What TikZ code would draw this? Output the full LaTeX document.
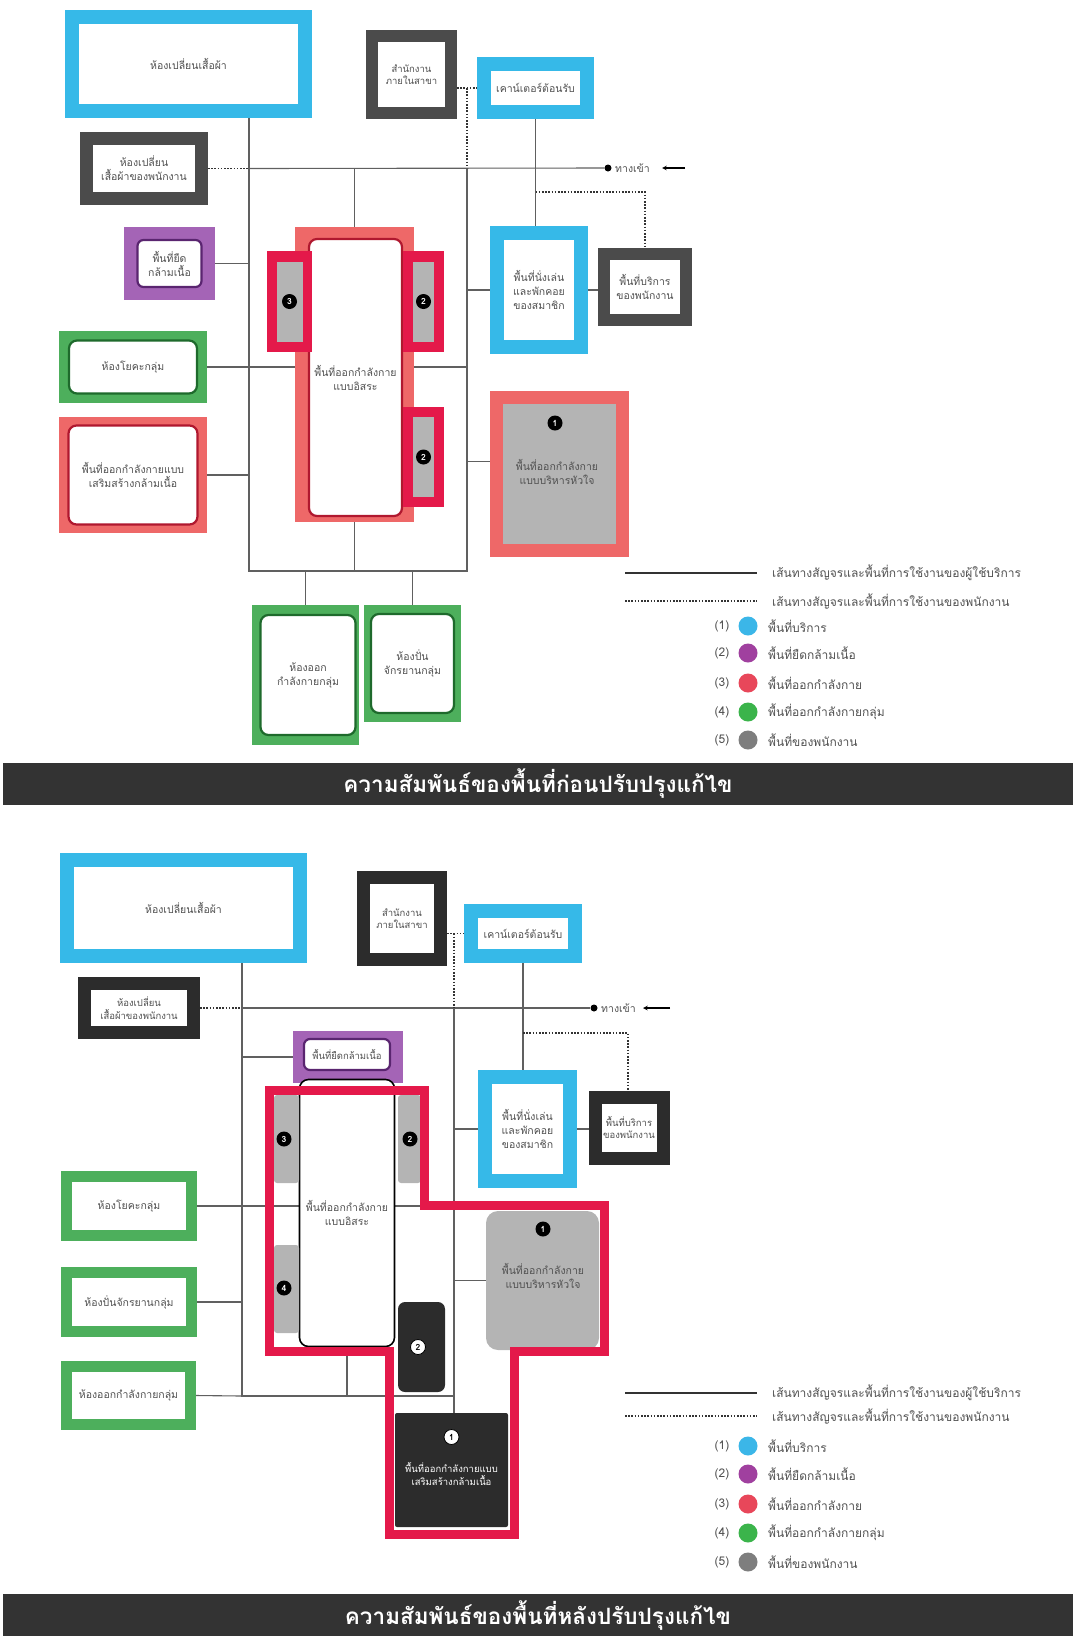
\documentclass[tikz,border=0pt]{standalone}
\usepackage{fontspec}
\setmainfont[Script=Thai]{Loma}
\usetikzlibrary{backgrounds}

\definecolor{svccyan}{HTML}{36B9E8}
\definecolor{stfgrey}{HTML}{4B4B4B}
\definecolor{stfdark}{HTML}{2C2C2C}
\definecolor{strpurple}{HTML}{A464B6}
\definecolor{strdark}{HTML}{5A2570}
\definecolor{exsalmon}{HTML}{EE6868}
\definecolor{exdark}{HTML}{B0182F}
\definecolor{excrimson}{HTML}{E4194A}
\definecolor{grpgreen}{HTML}{4DAF5C}
\definecolor{grpdark}{HTML}{1E6A2C}
\definecolor{areagrey}{HTML}{B4B4B4}
\definecolor{lblgrey}{HTML}{505050}
\definecolor{routegrey}{HTML}{606060}
\definecolor{barblack}{HTML}{333333}
\definecolor{keycyan}{HTML}{3BB6E8}
\definecolor{keypurple}{HTML}{A0409F}
\definecolor{keyred}{HTML}{E8475A}
\definecolor{keygreen}{HTML}{3BB44B}
\definecolor{keygrey}{HTML}{7E7E7E}

\newcommand{\lblfont}{\fontsize{10.5}{14}\selectfont}
\newcommand{\smlfont}{\fontsize{9.5}{12.5}\selectfont}
\newcommand{\keyfont}{\fontsize{12}{14}\selectfont}
\newcommand{\ttlfont}{\fontsize{22.5}{26}\selectfont\bfseries}
\newcommand{\badgefont}{\fontsize{8.5}{8.5}\selectfont\bfseries}

% one row of the colour key
\newcommand{\keyitem}[5]{
  \node (#1n) at (722,#2) [keytxt, anchor=center] {(#3)};
  \node (#1c) at (748,#2) [keydot, fill=#4] {};
  \node (#1t) at (768,#2) [keytxt] {#5};
}

\tikzset{
  lbl/.style={align=center, font=\lblfont, text=lblgrey, inner sep=0pt},
  sml/.style={font=\smlfont},
  svcbox/.style={lbl, draw=svccyan, fill=white, line width=14pt},
  stfbox/.style={lbl, draw=stfgrey, fill=white, line width=12pt},
  stfboxb/.style={lbl, draw=stfdark, fill=white, line width=13pt},
  strout/.style={fill=strpurple, inner sep=0pt},
  strin/.style={lbl, draw=strdark, fill=white, line width=2.2pt, rounded corners=6pt},
  grpout/.style={fill=grpgreen, inner sep=0pt},
  grpin/.style={lbl, draw=grpdark, fill=white, line width=2.2pt, rounded corners=8pt},
  grpbox/.style={lbl, draw=grpgreen, fill=white, line width=11pt},
  exout/.style={fill=exsalmon, inner sep=0pt},
  exin/.style={lbl, draw=exdark, fill=white, line width=2.2pt, rounded corners=8pt},
  sidebox/.style={fill=excrimson, inner sep=0pt},
  sidefill/.style={fill=areagrey, inner sep=0pt},
  greyin/.style={fill=areagrey, inner sep=0pt},
  frbox/.style={lbl, draw=black, fill=white, line width=1.6pt, rounded corners=9pt},
  drkbox/.style={lbl, fill=stfdark, text=white, rounded corners=7pt},
  exframe/.style={draw=excrimson, line width=9pt, line join=miter},
  badge/.style={circle, fill=black, text=white, font=\badgefont, inner sep=0pt, minimum size=15pt},
  badgew/.style={badge, fill=white, text=black, draw=black, line width=0.8pt},
  route/.style={draw=routegrey, line width=1.1pt},
  stfroute/.style={draw=black!80, line width=1.3pt, dash pattern=on 1.6pt off 1.6pt},
  entdot/.style={circle, fill=black, inner sep=0pt, minimum size=7pt},
  entarrow/.style={draw=black, line width=1.1pt, -stealth},
  keytxt/.style={font=\keyfont, text=lblgrey, anchor=west, inner sep=0pt},
  keydot/.style={circle, inner sep=0pt, minimum size=19pt},
  bar/.style={fill=barblack, text=white, font=\ttlfont, inner sep=0pt}
}

\begin{document}
\begin{tikzpicture}[x=1pt,y=-1pt]
  \useasboundingbox (0,0) rectangle (1073,1642);

  % before
  \node (chgA) at (188.5,64) [svcbox, minimum width=233pt, minimum height=94pt] {ห้องเปลี่ยนเสื้อผ้า};
  \node (offA) at (411.5,74.5) [stfbox, sml, minimum width=79pt, minimum height=77pt] {สำนักงาน\\ภายในสาขา};
  \node (recA) at (535.5,88) [svcbox, minimum width=103pt, minimum height=48pt] {เคาน์เตอร์ต้อนรับ};
  \node (schA) at (144,168.5) [stfbox, line width=13pt, minimum width=115pt, minimum height=60pt] {ห้องเปลี่ยน\\เสื้อผ้าของพนักงาน};
  \node (strA) at (169.5,263.5) [strout, minimum width=91pt, minimum height=73pt] {};
  \node (strAin) at (strA) [strin, minimum width=64pt, minimum height=47pt] {พื้นที่ยืด\\กล้ามเนื้อ};
  \node (lngA) at (539,290) [svcbox, minimum width=84pt, minimum height=114pt] {พื้นที่นั่งเล่น\\และพักคอย\\ของสมาชิก};
  \node (ssvA) at (645,287) [stfbox, minimum width=82pt, minimum height=66pt] {พื้นที่บริการ\\ของพนักงาน};
  \node (yogA) at (133,367) [grpout, minimum width=148pt, minimum height=72pt] {};
  \node (yogAin) at (yogA) [grpin, minimum width=128pt, minimum height=53pt] {ห้องโยคะกลุ่ม};
  \node (wgtA) at (133,475) [exout, minimum width=148pt, minimum height=116pt] {};
  \node (wgtAin) at (wgtA) [exin, minimum width=129pt, minimum height=99pt] {พื้นที่ออกกำลังกายแบบ\\เสริมสร้างกล้ามเนื้อ};
  \node (frA) at (354.5,374.5) [exout, minimum width=119pt, minimum height=295pt] {};
  \node (frAin) at (355.5,377.5) [exin, minimum width=93pt, minimum height=277pt] {พื้นที่ออกกำลังกาย\\แบบอิสระ};
  \node (sdAa) at (289.5,301.5) [sidebox, minimum width=45pt, minimum height=101pt] {};
  \node at (sdAa) [sidefill, minimum width=26pt, minimum height=80pt] {};
  \node (bdAa) at (sdAa) [badge] {3};
  \node (sdAb) at (423.5,301.5) [sidebox, minimum width=41pt, minimum height=101pt] {};
  \node at (sdAb) [sidefill, minimum width=21pt, minimum height=80pt] {};
  \node (bdAb) at (sdAb) [badge] {2};
  \node (sdAc) at (423.5,457) [sidebox, minimum width=41pt, minimum height=100pt] {};
  \node at (sdAc) [sidefill, minimum width=21pt, minimum height=80pt] {};
  \node (bdAc) at (sdAc) [badge] {2};
  \node (cdA) at (559.5,474) [exout, minimum width=139pt, minimum height=166pt] {};
  \node (cdAin) at (cdA) [greyin, minimum width=113pt, minimum height=140pt] {};
  \node (bdAd) at (555,423) [badge] {1};
  \node (cdAtxt) at (557,472) [lbl] {พื้นที่ออกกำลังกาย\\แบบบริหารหัวใจ};
  \node (grpA) at (305.5,675) [grpout, minimum width=107pt, minimum height=140pt] {};
  \node (grpAin) at (308,675) [grpin, minimum width=95pt, minimum height=120pt] {ห้องออก\\กำลังกายกลุ่ม};
  \node (cycA) at (412.5,663.5) [grpout, minimum width=97pt, minimum height=117pt] {};
  \node (cycAin) at (cycA) [grpin, minimum width=83pt, minimum height=99pt] {ห้องปั่น\\จักรยานกลุ่ม};

  \coordinate (cnrAL) at (249,571);
  \coordinate (cnrAR) at (467,571);
  \coordinate (stfA) at (645,192);
  \node (entA) at (608,168) [entdot] {};
  \node (entAlbl) at (615,168) [lbl, anchor=west] {ทางเข้า};
  \coordinate (arrA) at (685,168);
  \draw[entarrow] (arrA) -- (entAlbl.east) [shorten >=12pt];

  \begin{scope}[on background layer]
    \draw[route] (chgA.south -| cnrAL) -- (cnrAL) -- (cnrAR) -- (cnrAR |- entA);
    \draw[stfroute] (schA.east) -- (schA.east -| cnrAL);
    \draw[route] (schA.east -| cnrAL) -- (entA);
    \draw[route] (frA.north) -- (frA.north |- entA);
    \draw[stfroute] (offA.east |- recA.west) -- (recA.west);
    \draw[stfroute] (cnrAR |- recA.west) -- (cnrAR |- entA);
    \draw[route] (recA.south) -- (recA.south |- lngA.north);
    \draw[stfroute] (recA.south |- stfA) -- (stfA) -- (ssvA.north);
    \draw[route] (lngA.west -| cnrAR) -- (lngA.west);
    \draw[route] (lngA.east) -- (lngA.east -| ssvA.west);
    \draw[route] (strA.east) -- (strA.east -| cnrAL);
    \draw[route] (yogA.east) -- (yogA.east -| cnrAR);
    \draw[route] (wgtA.east) -- (wgtA.east -| cnrAL);
    \draw[route] (cdA.170 -| cnrAR) -- (cdA.170);
    \draw[route] (frA.south) -- (frA.south |- cnrAL);
    \draw[route] (grpA.north) -- (grpA.north |- cnrAL);
    \draw[route] (cycA.north) -- (cycA.north |- cnrAL);
  \end{scope}

  \coordinate (keyAa) at (625,573);
  \coordinate (keyAb) at (625,601);
  \draw[route, draw=black!80] (keyAa) -- ++(132,0);
  \draw[stfroute] (keyAb) -- ++(132,0);
  \node (keyAat) at (772,573) [keytxt] {เส้นทางสัญจรและพื้นที่การใช้งานของผู้ใช้บริการ};
  \node (keyAbt) at (772,601) [keytxt] {เส้นทางสัญจรและพื้นที่การใช้งานของพนักงาน};
  \keyitem{keyA1}{626}{1}{keycyan}{พื้นที่บริการ}
  \keyitem{keyA2}{653}{2}{keypurple}{พื้นที่ยืดกล้ามเนื้อ}
  \keyitem{keyA3}{683}{3}{keyred}{พื้นที่ออกกำลังกาย}
  \keyitem{keyA4}{712}{4}{keygreen}{พื้นที่ออกกำลังกายกลุ่ม}
  \keyitem{keyA5}{740}{5}{keygrey}{พื้นที่ของพนักงาน}

  \node (barA) at (538,784) [bar, minimum width=1070pt, minimum height=42pt] {ความสัมพันธ์ของพื้นที่ก่อนปรับปรุงแก้ไข};

  % after
  \node (chgB) at (183.5,908) [svcbox, minimum width=233pt, minimum height=96pt] {ห้องเปลี่ยนเสื้อผ้า};
  \node (offB) at (402,918.5) [stfboxb, sml, minimum width=77pt, minimum height=82pt] {สำนักงาน\\ภายในสาขา};
  \node (recB) at (523,933.5) [svcbox, minimum width=104pt, minimum height=45pt] {เคาน์เตอร์ต้อนรับ};
  \node (schB) at (139,1008) [stfboxb, sml, minimum width=109pt, minimum height=49pt] {ห้องเปลี่ยน\\เสื้อผ้าของพนักงาน};
  \node (strB) at (348,1057) [strout, minimum width=110pt, minimum height=52pt] {};
  \node (strBin) at (347,1054.5) [strin, sml, minimum width=86pt, minimum height=31pt] {พื้นที่ยืดกล้ามเนื้อ};
  \node (lngB) at (527.5,1129) [svcbox, minimum width=85pt, minimum height=104pt] {พื้นที่นั่งเล่น\\และพักคอย\\ของสมาชิก};
  \node (ssvB) at (629,1127.5) [stfboxb, sml, minimum width=68pt, minimum height=61pt] {พื้นที่บริการ\\ของพนักงาน};
  \node (yogB) at (129,1206) [grpbox, minimum width=125pt, minimum height=59pt] {ห้องโยคะกลุ่ม};
  \node (cycB) at (129,1302) [grpbox, minimum width=125pt, minimum height=59pt] {ห้องปั่นจักรยานกลุ่ม};
  \node (grpB) at (128.5,1395.5) [grpbox, minimum width=124pt, minimum height=58pt] {ห้องออกกำลังกายกลุ่ม};
  \node (frB) at (347,1213) [frbox, minimum width=95pt, minimum height=267pt] {พื้นที่ออกกำลังกาย\\แบบอิสระ};
  \node (sdBa) at (286.5,1139) [sidefill, rounded corners=3pt, minimum width=25pt, minimum height=88pt] {};
  \node (sdBb) at (286.5,1289) [sidefill, rounded corners=3pt, minimum width=25pt, minimum height=88pt] {};
  \node (sdBc) at (409.5,1139) [sidefill, rounded corners=3pt, minimum width=23pt, minimum height=88pt] {};
  \node (cdB) at (542.5,1280.5) [greyin, rounded corners=12pt, minimum width=113pt, minimum height=139pt] {};
  \node (cdBtxt) at (543,1276) [lbl] {พื้นที่ออกกำลังกาย\\แบบบริหารหัวใจ};
  \node (drkB) at (421.5,1347) [drkbox, minimum width=47pt, minimum height=90pt] {};
  \node (wgtB) at (451.5,1470) [drkbox, rounded corners=2pt, minimum width=113pt, minimum height=114pt] {};
  \node (wgtBtxt) at (451.5,1474) [lbl, sml, text=white] {พื้นที่ออกกำลังกายแบบ\\เสริมสร้างกล้ามเนื้อ};
  \draw[exframe] (269,1090) -- (424,1090) -- (424,1205) -- (604,1205) -- (604,1351)
    -- (514,1351) -- (514,1534) -- (389,1534) -- (389,1351) -- (269,1351) -- cycle;
  \node (bdBa) at (284,1139) [badge] {3};
  \node (bdBb) at (284,1288) [badge] {4};
  \node (bdBc) at (410,1139) [badge] {2};
  \node (bdBd) at (418,1347) [badgew] {2};
  \node (bdBe) at (543,1229) [badge] {1};
  \node (bdBf) at (451.5,1437) [badgew] {1};

  \coordinate (cnrBL) at (242,1396);
  \coordinate (cnrBR) at (454,1396);
  \coordinate (stfB) at (628,1033);
  \node (entB) at (594,1008) [entdot] {};
  \node (entBlbl) at (601,1008) [lbl, anchor=west] {ทางเข้า};
  \coordinate (arrB) at (670,1008);
  \draw[entarrow] (arrB) -- (entBlbl.east) [shorten >=7pt];

  \begin{scope}[on background layer]
    \draw[route] (chgB.south -| cnrBL) -- (cnrBL) -- (cnrBR);
    \draw[route] (wgtB.north -| cnrBR) -- (cnrBR |- entB);
    \draw[stfroute] (schB.east) -- (schB.east -| cnrBL);
    \draw[route] (schB.east -| cnrBL) -- (entB);
    \draw[stfroute] (offB.east |- recB.west) -- (recB.west);
    \draw[stfroute] (cnrBR |- recB.west) -- (cnrBR |- entB);
    \draw[route] (recB.south) -- (recB.south |- lngB.north);
    \draw[stfroute] (recB.south |- stfB) -- (stfB) -- (stfB |- ssvB.north);
    \draw[route] (lngB.west -| cnrBR) -- (lngB.west);
    \draw[route] (lngB.east) -- (lngB.east -| ssvB.west);
    \draw[route] (strB.west -| cnrBL) -- (strB.west);
    \draw[route] (yogB.east) -- (yogB.east -| cnrBR);
    \draw[route] (cycB.east) -- (cycB.east -| cnrBL);
    \draw[route] (grpB.east) -- (cnrBL);
    \draw[route] (frB.south) -- (frB.south |- cnrBL);
    \draw[route] (cdB.west -| cnrBR) -- (cdB.west);
  \end{scope}

  \coordinate (keyBa) at (625,1393);
  \coordinate (keyBb) at (625,1416);
  \draw[route, draw=black!80] (keyBa) -- ++(132,0);
  \draw[stfroute] (keyBb) -- ++(132,0);
  \node (keyBat) at (772,1393) [keytxt] {เส้นทางสัญจรและพื้นที่การใช้งานของผู้ใช้บริการ};
  \node (keyBbt) at (772,1416) [keytxt] {เส้นทางสัญจรและพื้นที่การใช้งานของพนักงาน};
  \keyitem{keyB1}{1446}{1}{keycyan}{พื้นที่บริการ}
  \keyitem{keyB2}{1474}{2}{keypurple}{พื้นที่ยืดกล้ามเนื้อ}
  \keyitem{keyB3}{1504}{3}{keyred}{พื้นที่ออกกำลังกาย}
  \keyitem{keyB4}{1533}{4}{keygreen}{พื้นที่ออกกำลังกายกลุ่ม}
  \keyitem{keyB5}{1562}{5}{keygrey}{พื้นที่ของพนักงาน}

  \node (barB) at (538,1615) [bar, minimum width=1070pt, minimum height=42pt] {ความสัมพันธ์ของพื้นที่หลังปรับปรุงแก้ไข};
\end{tikzpicture}
\end{document}
